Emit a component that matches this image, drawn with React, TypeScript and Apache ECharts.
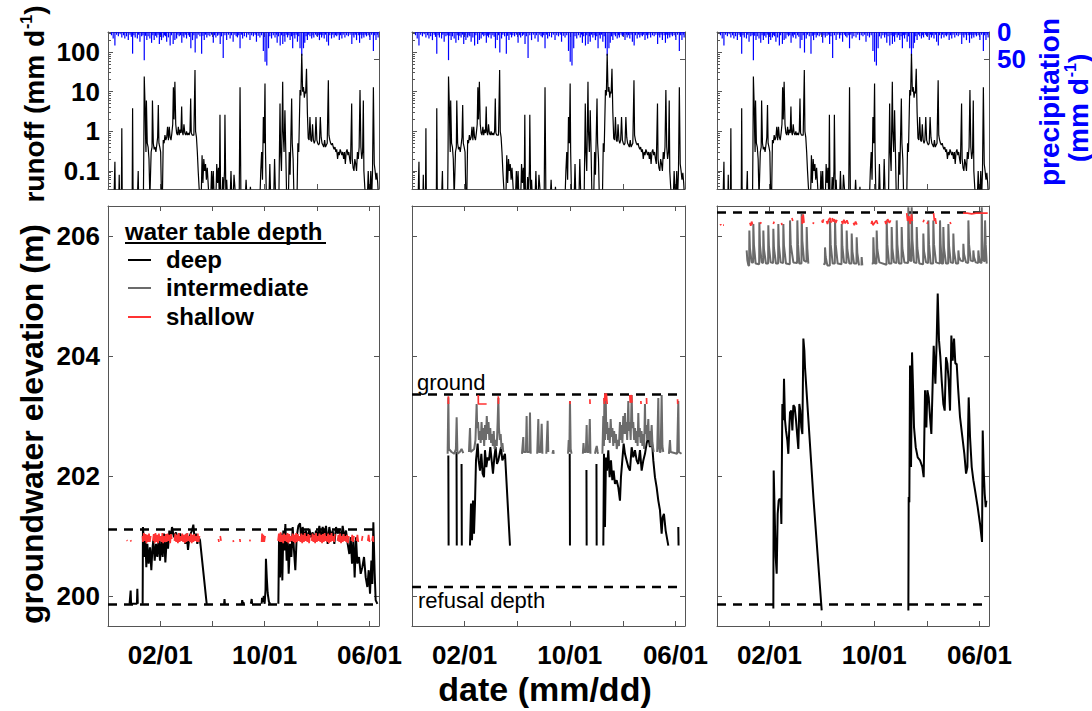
import React, { useEffect, useRef } from 'react';
import * as echarts from 'echarts';

// ---------------- axes / ticks ----------------
const dayRange = [2, 630];
const xTickDays = [123, 243, 365, 488, 608];
const xLabelDays = [123, 365, 608];
const xLabels = ['02/01', '10/01', '06/01'];

const runoffRange = [0.035, 320];
const runoffTicks = [0.1, 1, 10, 100];
const runoffMinorTicks = [0.04, 0.05, 0.06, 0.07, 0.08, 0.09, 0.2, 0.3, 0.4, 0.5, 0.6, 0.7, 0.8, 0.9,
  2, 3, 4, 5, 6, 7, 8, 9, 20, 30, 40, 50, 60, 70, 80, 90, 200, 300];
const precipRange = [0, 290];
const precipTicks = [0, 50];
const elevRange = [199.5, 206.5];
const elevTicks = [200, 202, 204, 206];

// ---------------- runoff [day, mm/d] ----------------
const runoff: number[][] = [
  [2, 0.02], [16, 0.02], [18, 0.17], [19, 0.02], [27, 0.02], [28, 0.08], [29, 0.02], [33, 0.02], [34, 1.2], [35, 0.02],
  [58, 0.02], [59, 3.8], [60, 0.04], [61, 0.02], [70, 0.02], [72, 0.1], [73, 0.02],
  [84, 0.02], [85, 0.4], [86, 24], [88, 4], [89, 0.8], [90, 0.3], [91, 6], [93, 0.5], [95, 0.4], [97, 0.2], [99, 0.02],
  [100, 0.02], [102, 0.3], [104, 0.4], [105, 6], [107, 0.5], [109, 0.35], [111, 0.4], [113, 0.3], [115, 0.45], [117, 0.7],
  [118.6, 4.6], [120, 0.5], [122, 0.4], [124, 0.3], [126, 0.02], [128, 0.02], [130, 0.6], [132, 0.5], [134, 0.8], [136, 0.6],
  [138, 0.7], [140, 1.3], [142, 0.6], [144, 1.3], [146, 0.7], [148, 0.6], [150, 0.9], [152, 1.5], [153.5, 13], [155, 2],
  [157, 17.7], [159, 1.5], [161, 0.9], [163, 0.8], [165, 1.3], [167, 0.8], [169, 1.1], [171, 0.9], [172.7, 4.2], [174, 1.0],
  [176, 0.8], [178, 1.5], [180, 0.9], [182, 0.8], [184, 1.0], [186, 0.8], [188, 0.9], [190, 0.8], [192, 1.0], [193.6, 6.7],
  [195, 0.9], [197, 0.8], [199, 0.8], [201, 0.8], [203.6, 35], [205, 1.0], [207, 0.7], [209, 0.3], [211, 0.1], [213, 0.04],
  [215, 0.02], [218, 0.02], [220, 0.25], [222, 0.05], [224, 0.2], [226, 0.1], [228, 0.15], [230, 0.06], [232, 0.12],
  [234, 0.05], [236, 0.02], [240, 0.02], [242, 0.1], [244, 0.03], [246, 0.1], [248, 0.02], [252, 0.02], [254, 0.15],
  [256, 0.05], [258, 0.12], [260, 0.02], [261.5, 2.6], [263, 0.02], [266, 0.02], [268, 0.07], [270, 0.03], [272, 0.1],
  [273, 2.6], [275, 0.03], [277, 0.06], [279, 0.02], [285, 0.02], [287, 0.1], [289, 0.02], [292, 0.02], [294, 0.08],
  [296, 0.04], [298, 0.02], [306, 0.02], [308, 13], [310, 0.02], [320, 0.02], [322, 0.06], [324, 0.02], [330, 0.02],
  [332, 0.04], [334, 0.02], [354, 0.02], [356, 0.1], [358, 0.3], [360, 0.06], [362, 2.3], [364, 0.5], [365.8, 16],
  [367, 0.3], [369, 0.02], [375, 0.02], [377, 0.15], [379, 0.02], [386, 0.02], [388, 0.2], [390, 0.03], [398, 0.02],
  [400.6, 5], [402, 0.3], [404, 0.1], [406.8, 17.7], [408, 1.0], [410, 0.3], [412, 3.4], [414, 0.3], [416, 0.02],
  [420, 0.02], [422, 0.3], [424, 0.08], [427.6, 6.7], [429, 0.5], [431, 0.2], [433, 0.02], [440, 0.02], [442, 0.5],
  [444, 0.3], [447, 11], [449, 8], [451, 90], [453, 10], [455, 13], [457, 7], [458.5, 10], [460, 9], [462, 38], [464, 3],
  [466, 0.67], [468, 0.6], [470, 2.3], [472, 0.6], [474, 0.55], [476, 1.5], [478, 0.6], [480, 0.5], [482, 0.6], [484, 2.3],
  [486, 0.6], [488, 0.5], [490, 0.45], [492, 0.5], [494, 2.3], [496, 0.7], [498, 0.5], [500, 0.45], [502, 0.4], [504, 0.6],
  [506, 0.4], [508, 0.45], [510, 0.5], [512.6, 19.5], [514, 0.8], [516, 0.6], [518, 0.5], [520, 0.45], [522, 0.5],
  [524, 0.4], [526, 0.35], [528, 0.4], [530, 0.3], [532, 0.35], [534, 0.2], [536, 0.3], [538, 0.25], [540, 0.35],
  [542, 0.3], [544, 0.25], [546, 0.3], [548, 0.2], [550, 0.3], [552, 0.15], [554, 0.3], [556, 0.35], [558, 0.25],
  [560, 0.3], [562, 0.2], [564, 0.15], [566.7, 5], [568, 0.2], [570, 0.12], [572, 0.1], [574, 0.2], [576, 0.15],
  [578, 0.1], [580, 0.3], [582, 0.2], [584, 0.4], [586, 11], [588, 0.4], [590, 0.2], [592, 0.3], [593.7, 6], [595, 0.1],
  [597, 0.04], [599, 0.02], [603, 0.02], [605, 0.1], [607, 0.03], [609, 0.02], [611, 0.1], [613, 0.02], [615, 0.1],
  [617, 13], [619, 0.15], [621, 0.1], [623, 0.06], [625, 0.09], [627, 0.05], [629, 0.02],
];

// ---------------- precipitation [day, mm] ----------------
const precip: number[][] = [
  [10, 6], [14, 12], [18, 25], [22, 5], [26, 8], [30, 4], [34, 10], [38, 6], [41, 12], [45, 8], [49, 15], [53, 5], [56, 9],
  [59, 40], [62, 6], [65, 10], [70, 12], [73, 5], [76, 18], [80, 8], [83, 6], [86, 52], [89, 7], [92, 15], [95, 8], [99, 12],
  [103, 20], [106, 6], [109, 15], [112, 7], [115, 10], [118, 5], [121, 22], [124, 6], [126, 15], [130, 10], [133, 6],
  [135, 8], [138, 18], [142, 10], [146, 25], [149, 6], [153, 22], [157, 15], [161, 12], [164, 5], [167, 8], [170, 6],
  [173, 20], [176, 7], [178, 10], [181, 5], [184, 12], [188, 6], [191, 9], [194, 30], [198, 15], [201, 6], [204, 38],
  [208, 12], [211, 5], [215, 8], [219, 40], [222, 7], [225, 15], [228, 5], [231, 10], [234, 6], [238, 8], [242, 5],
  [246, 20], [249, 6], [252, 10], [256, 7], [259, 5], [262, 22], [265, 8], [269, 48], [273, 6], [277, 15], [281, 5],
  [285, 12], [288, 6], [292, 18], [296, 5], [299, 8], [302, 10], [305, 6], [308, 30], [311, 5], [314, 12], [318, 8],
  [323, 10], [327, 5], [331, 15], [335, 6], [339, 8], [343, 5], [346, 18], [350, 7], [354, 10], [358, 6], [362, 35],
  [366, 55], [370, 62], [374, 30], [377, 8], [381, 12], [385, 6], [389, 10], [392, 5], [394, 20], [397, 8], [401, 25],
  [404, 6], [407, 22], [410, 8], [412, 18], [415, 5], [418, 10], [421, 6], [424, 15], [427, 8], [430, 30], [433, 6],
  [435, 12], [438, 5], [441, 18], [444, 8], [447, 30], [451, 44], [455, 30], [458, 20], [461, 8], [464, 15], [467, 5],
  [470, 8], [474, 12], [477, 6], [479, 10], [483, 5], [486, 8], [489, 6], [492, 15], [495, 5], [497, 10], [500, 6],
  [503, 12], [506, 5], [509, 18], [513, 25], [516, 6], [520, 12], [523, 5], [526, 10], [529, 6], [532, 8], [535, 5],
  [538, 15], [541, 6], [544, 12], [547, 5], [551, 10], [555, 6], [559, 8], [563, 5], [567, 22], [570, 6], [572, 10],
  [575, 5], [578, 15], [582, 6], [585, 20], [588, 5], [590, 12], [593, 6], [595, 10], [598, 5], [601, 8], [605, 6],
  [609, 15], [613, 5], [617, 35], [620, 6], [623, 15], [626, 5], [628, 10],
];

// ---------------- reference elevations (m) ----------------
const groundElev = [201.11, 203.36, 206.39];
const refusalElev = [199.86, 200.15, 199.86];
const refLineDays = [2, 618];

// ---------------- panel 1 groundwater (segments of [day, m]) ----------------
const deep1: number[][][] = [
  [[52, 199.87], [54.5, 200.09], [55.5, 199.87], [62, 199.87], [69, 199.87], [70, 200.12], [71, 199.87]],
  [[82.3, 199.87], [83, 201.15], [84, 201.04], [86.2, 200.65], [88.5, 200.98], [90.8, 200.48], [93.2, 200.87], [96.2, 200.54],
    [99.3, 200.81], [102.4, 200.43], [104.7, 200.76], [107, 200.93], [110.2, 200.59], [113.2, 200.87], [116.3, 200.65],
    [119.4, 200.98], [122.5, 200.59], [125.6, 200.93], [128.7, 200.65], [131.8, 201.04], [134.9, 200.56], [138, 200.93],
    [141.1, 200.79], [144.1, 201.09], [147.2, 200.95], [150.3, 201.15], [155, 200.98], [159.6, 201.06], [164.2, 200.93],
    [168.9, 201.04], [173.5, 200.95], [178.1, 201.01], [181.2, 200.87], [184.3, 201.04], [187.4, 200.77], [190.5, 200.98],
    [193.6, 201.04], [196.7, 201.09], [199.8, 201.19], [202.9, 200.93], [205.9, 201.04], [209, 200.87], [212.1, 200.98],
    [215.2, 200.93], [230.7, 199.87]],
  [[271, 199.87], [272, 199.95], [273, 199.87]],
  [[312, 199.87], [313, 199.93], [315, 199.87], [317, 199.9]],
  [[333, 199.87], [335, 199.95], [336, 199.87]],
  [[358, 199.87], [359, 199.97], [361, 199.9], [363, 200.0], [365, 199.87], [367, 200.1], [368, 200.62], [370, 200.3],
    [372, 200.05], [375, 199.9], [378, 199.87]],
  [[396.8, 199.87], [398.3, 200.93], [400.6, 200.31], [402.9, 201.04], [406, 200.26], [408.3, 201.09], [410.7, 200.76],
    [413, 201.2], [416, 200.59], [418.4, 200.98], [420.7, 200.37], [423.8, 200.87], [426.9, 200.65], [430, 201.15],
    [433, 200.76], [436.1, 200.43], [439.2, 200.98], [443.1, 201.17], [447, 201.21], [450.1, 200.93], [453.1, 201.15],
    [457, 200.98], [460.9, 201.09], [464.7, 200.93], [468.6, 201.12], [472.4, 200.98], [476.3, 201.06], [480.2, 200.93],
    [484, 201.09], [487.9, 200.98], [491.8, 201.17], [495.6, 200.93], [499.5, 201.15], [503.4, 200.98], [507.2, 201.17],
    [511.1, 200.87], [514.9, 201.15], [518.8, 200.98], [522.7, 201.09], [526.5, 200.87], [530.4, 201.15], [534.2, 201.04],
    [538.1, 201.12], [542, 200.93], [545.8, 201.17], [549.7, 200.98], [553.6, 201.09], [557.4, 200.87], [561.3, 200.7],
    [564.4, 200.98], [567.5, 200.54], [570.6, 200.93], [573.6, 200.31], [576.7, 200.98], [579.8, 200.54], [583.7, 200.65],
    [587.5, 200.37], [591.4, 200.48], [595.3, 200.65], [599.2, 200.31], [603, 200.15], [606.1, 200.43], [609.2, 200.04],
    [612.3, 200.59], [614.6, 200.2], [616.9, 201.23], [620, 200.37], [622.3, 199.93], [626.2, 199.87]],
];
const inter1: number[][][] = [];
const shallow1: number[][][] = [
  [[45.3, 200.93], [47, 200.92]], [[54, 200.93], [56, 200.91]],
  [[82, 201.0], [83, 200.9], [85, 201.05], [87, 200.92], [89, 201.03], [91, 200.88], [93, 201.02], [95, 200.9], [97, 201.04],
    [99, 200.9], [101, 201.0]],
  [[106, 200.92], [108, 201.03], [110, 200.88], [112, 201.05], [114, 200.9], [116, 201.02], [118, 200.88], [120, 201.04],
    [122, 200.92], [124, 201.0], [126, 200.9], [128, 201.05], [130, 200.88], [132, 201.0], [134, 200.9], [136, 201.03],
    [138, 200.9], [140, 201.04], [142, 200.92], [144, 201.02], [146, 200.88], [148, 201.03], [150, 200.95]],
  [[156, 200.92], [158, 201.04], [160, 200.9], [162, 201.02], [164, 200.88], [166, 201.05], [168, 200.9], [170, 201.0],
    [172, 200.92], [174, 201.04], [176, 200.9], [178, 201.02], [180, 200.88], [182, 201.03], [184, 200.9], [186, 201.05],
    [188, 200.92], [190, 201.0], [192, 200.9], [194, 201.04], [196, 200.88], [198, 201.02], [200, 200.9], [202, 201.03],
    [204, 200.92], [206, 201.0], [208, 200.9], [210, 201.04], [212, 200.9], [214, 201.0]],
  [[258, 200.95], [259, 200.9]], [[262, 201.0], [264, 200.92]], [[292, 200.93], [293, 200.9]],
  [[307.5, 200.95], [308.5, 200.9]], [[330.5, 200.94], [331.5, 200.91]],
  [[358, 200.9], [359, 201.04], [360, 200.9], [362, 201.02], [364, 200.9], [366, 201.0]],
  [[396, 200.92], [398, 201.04], [400, 200.9], [402, 201.06], [404, 200.9], [406, 201.02], [408, 200.88], [410, 201.04],
    [412, 200.92], [414, 201.02], [416, 200.9], [418, 201.05], [420, 200.88], [422, 201.03], [424, 200.9], [426, 201.0],
    [428, 200.92], [430, 201.04], [432, 200.9], [434, 201.02], [436, 200.88], [438, 201.05], [440, 200.9], [442, 201.03],
    [444, 200.92], [446, 201.0], [448, 200.9], [450, 201.04], [452, 200.88], [454, 201.02], [456, 200.9], [458, 201.05],
    [460, 200.92], [462, 201.0], [464, 200.9], [466, 201.03], [468, 200.88], [470, 201.02]],
  [[474, 200.92], [476, 201.04], [478, 200.9], [480, 201.02], [482, 200.88], [484, 201.05], [486, 200.9], [488, 201.0],
    [490, 200.92], [492, 201.04], [494, 200.9], [496, 201.02], [498, 200.88], [500, 201.03], [502, 200.9], [504, 201.05],
    [506, 200.92], [508, 201.0], [510, 200.9], [512, 201.04], [514, 200.88], [516, 201.02], [518, 200.9], [520, 201.05],
    [522, 200.92], [524, 201.0], [526, 200.9], [528, 201.03]],
  [[534, 200.92], [536, 201.02], [538, 200.9], [540, 201.04], [542, 200.88], [544, 201.0], [546, 200.9], [548, 201.03],
    [550, 200.92], [552, 201.0], [554, 200.9], [556, 201.02], [558, 200.88], [560, 201.0]],
  [[566, 200.92], [568, 201.02], [570, 200.9], [572, 201.0]], [[578, 200.92], [580, 201.02], [582, 200.9]],
  [[590, 200.92], [592, 201.0]], [[604, 200.92], [606, 201.02], [608, 200.9]], [[614, 200.92], [616, 201.0], [617, 200.9]],
];

// ---------------- panel 2 groundwater ----------------
const deep2: number[][][] = [
  [[12, 200.86], [13.5, 200.86]],
  [[85.6, 202.34], [86.2, 200.84]],
  [[104.4, 202.4], [105, 200.84]],
  [[116, 202.2], [116.6, 200.84]],
  [[135.4, 200.84], [137.7, 201.54], [140, 200.93], [142.3, 201.59], [144.6, 201.04], [146.9, 201.54], [149.2, 202.26],
    [150.7, 202.37], [153, 202.54], [155.3, 202.26], [158.4, 202.09], [161.5, 202.37], [164.5, 202.04], [167.6, 201.98],
    [169.9, 202.43], [173, 202.15], [176, 202.31], [179.1, 202.26], [182.2, 202.48], [185.2, 202.26], [188.3, 202.04],
    [191.4, 202.31], [194.4, 202.48], [197.5, 202.2], [200.6, 202.26], [203.6, 202.37], [206.7, 202.48], [209.8, 202.26],
    [212.8, 202.31], [215.9, 202.37], [227.4, 200.84]],
  [[364.8, 202.37], [365.4, 200.84]],
  [[403.3, 202.1], [403.8, 200.84]],
  [[426.3, 202.2], [426.8, 200.84]],
  [[442.1, 200.84], [443.6, 202.37], [445.9, 201.15], [448.2, 202.31], [450.5, 202.09], [453.6, 202.43], [456.6, 201.98],
    [459.7, 202.26], [462.8, 201.93], [465.8, 202.09], [468.9, 201.87], [472.8, 201.93], [476.6, 201.81], [480.4, 201.59],
    [482.7, 201.98], [485.8, 202.26], [488.9, 202.54], [491.9, 202.37], [495.7, 202.26], [499.6, 202.15], [503.4, 202.09],
    [507.3, 202.48], [511.1, 202.31], [514.9, 202.43], [518.8, 202.26], [522.6, 202.2], [526.4, 202.43], [530.3, 202.09],
    [534.1, 202.26], [537.9, 202.37], [541.7, 202.54], [545.6, 202.65], [549.4, 202.48], [553.3, 202.65], [557.1, 202.26],
    [560.9, 201.98], [564.8, 201.81], [568.6, 201.59], [572.4, 201.43], [576.3, 201.04], [578.6, 201.31], [581.6, 201.37],
    [585.5, 201.09], [591.6, 200.84]],
  [[614.6, 201.15], [615.2, 200.84]],
];
const inter2: number[][][] = [
  [[84, 202.37], [85.6, 203.31], [87, 202.45], [93, 202.4], [99, 202.37], [103, 202.45], [104.7, 202.98], [106.5, 202.37],
    [112, 202.4], [116, 202.45], [120, 202.38]],
  [[133, 202.4], [135.4, 202.8], [137, 202.4], [145, 202.45], [148, 202.6], [150.7, 203.2], [152, 202.8], [154, 202.9],
    [156, 202.6], [158, 202.75], [160, 202.55], [162, 202.9], [164, 202.6], [166, 202.8], [168, 202.5], [170, 202.85],
    [172, 202.6], [174, 203.0], [176, 202.7], [178, 202.9], [180, 202.6], [182, 202.8], [184, 202.55], [186, 202.7],
    [188, 202.5], [190, 202.75], [192, 202.45], [195, 202.6], [197, 202.5], [199, 202.9], [200.6, 203.3], [202, 202.8],
    [204, 202.6], [206, 202.7], [208, 202.45], [210, 202.55], [212, 202.4]],
  [[255, 202.37], [258, 202.65], [259, 202.4], [264, 202.4], [265.7, 203.0], [267, 202.4], [272, 202.4], [273.4, 203.06],
    [275, 202.37]],
  [[290, 202.37], [292.6, 202.95], [294, 202.4], [298, 202.4], [300.3, 202.87], [302, 202.37]],
  [[311, 202.37], [314, 202.92], [315.5, 202.4]],
  [[325, 202.37], [327, 202.43], [328, 202.37]],
  [[361, 202.37], [362.5, 202.6], [364, 202.4], [365.4, 203.25], [367, 202.45], [369, 202.37]],
  [[395, 202.37], [396.5, 202.55], [398, 202.4], [402, 202.4], [403.8, 202.85], [405, 202.4], [409, 202.4], [411, 202.95],
    [412.5, 202.37]],
  [[423, 202.37], [425, 202.45], [427, 202.5], [429, 202.4], [430, 202.37]],
  [[440, 202.37], [442.1, 203.0], [443.5, 202.5], [444.5, 203.3], [446, 202.6], [447.5, 203.38], [449, 202.7], [451, 202.9],
    [453, 202.6], [455, 202.8], [457, 202.55], [459, 202.95], [461, 202.65], [463, 202.8], [465, 202.5], [467, 202.75],
    [469, 202.55], [471, 202.7], [473, 202.45], [476, 202.6], [478, 202.5], [480.4, 202.9], [482, 202.6], [484, 202.85],
    [486, 202.55], [488, 203.0], [490, 202.7], [491.9, 203.05], [493, 202.7], [495, 202.9], [497, 202.6], [499.6, 203.25],
    [501, 202.75], [503, 202.9], [505, 202.6], [507.3, 203.35], [509, 202.8], [511, 202.9], [513, 202.6], [515, 202.8],
    [517, 202.55], [519, 202.75], [521, 202.5], [522.6, 203.05], [524, 202.65], [526, 202.8], [528, 202.55], [530, 202.75],
    [532, 202.5], [534, 202.7], [536, 202.45], [537.9, 203.2], [539, 202.7], [541, 202.85], [543, 202.6], [545.6, 202.95],
    [547, 202.6], [549, 202.75], [551, 202.5], [553.3, 202.85], [555, 202.55], [558, 202.4]],
  [[566, 202.4], [568.6, 203.3], [570, 202.5], [572, 202.4], [574, 202.4], [576.3, 203.35], [578, 202.5], [580, 202.4]],
  [[593, 202.37], [595.4, 202.6], [597, 202.4], [612, 202.37], [614.6, 203.25], [616, 202.4], [622, 202.37]],
];
const shallow2: number[][][] = [
  [[85.3, 203.2], [85.6, 203.33], [85.9, 203.2]],
  [[154.4, 203.35], [154.6, 203.2], [173.7, 203.2]],
  [[200.4, 203.33], [200.7, 203.2], [201, 203.3]],
  [[365.2, 203.25], [365.6, 203.2]],
  [[411.2, 203.28], [411.6, 203.2]],
  [[443.6, 203.3], [444.5, 203.2], [446, 203.38], [447.5, 203.25], [449, 203.38], [451, 203.2]],
  [[503, 203.35], [504, 203.22], [507, 203.35], [508, 203.22]],
  [[528.5, 203.25], [528.9, 203.2]],
  [[541.5, 203.3], [541.9, 203.2]],
  [[612.9, 203.28], [613.3, 203.2]],
];

// ---------------- panel 3 groundwater ----------------
const deep3: number[][][] = [
  [[132.1, 199.79], [132.9, 202.09], [135.2, 201.37], [137.5, 200.65], [139.8, 200.37], [142.1, 201.37], [144.4, 201.59],
    [146.7, 201.62], [149, 201.59], [150.6, 201.2], [152.9, 203.2], [155.2, 202.93], [156.7, 203.62], [159, 202.93],
    [161.3, 202.76], [164.4, 202.59], [166.7, 202.37], [169, 202.81], [170.6, 203.06], [173.6, 203.09], [176, 202.76],
    [178.3, 203.18], [181.3, 203.15], [184.4, 202.93], [187.5, 202.65], [189.8, 202.45], [192.1, 203.2], [194.4, 203.09],
    [196.7, 202.81], [199.1, 202.7], [201.4, 204.29], [203.7, 204.09], [205.2, 203.81], [224.5, 201.65], [243.7, 199.76]],
  [[443.8, 199.76], [444.6, 201.65], [446.1, 201.56], [447.7, 203.84], [450, 202.15], [452.3, 204.06], [454.6, 203.48],
    [456.9, 202.81], [460.8, 202.48], [465.4, 202.31], [470.8, 202.26], [476.1, 202.15], [479.2, 201.98], [482.3, 203.43],
    [485.4, 202.81], [487.7, 203.43], [490.8, 203.31], [493.8, 202.98], [496.9, 202.7], [499.2, 203.34], [502.3, 204.17],
    [506.2, 203.54], [509.2, 204.26], [511.6, 205.04], [514.6, 204.26], [517.7, 203.98], [520.8, 203.59], [524.6, 203.2],
    [527.7, 203.09], [530.8, 203.98], [533.9, 203.87], [536.9, 203.59], [540, 203.09], [543.1, 204.34], [546.2, 203.92],
    [549.3, 204.29], [552.3, 203.87], [555.4, 203.87], [558.5, 203.48], [563.1, 202.98], [568.5, 202.65], [573.1, 202.37],
    [577, 202.04], [580.1, 202.15], [583.1, 203.31], [586.2, 202.65], [590.1, 202.15], [593.9, 201.93], [597.8, 201.76],
    [603.9, 201.48], [609.3, 201.2], [613.9, 200.9], [615.5, 202.76], [617.8, 202.09], [620.1, 201.7], [622.4, 201.48],
    [623.9, 201.59]],
];
const inter3: number[][][] = [
  [[70.5, 205.76], [72, 205.6], [74.4, 205.51], [76.2, 205.51], [76.7, 206.09], [78, 205.8], [82, 205.56],
    [85.4, 205.56], [85.9, 206.2], [87.3, 205.85], [91.3, 205.54], [99.3, 205.53], [99.8, 206.23], [101.2, 205.85],
    [105.1, 205.56], [108.5, 205.55], [109, 206.09], [110.4, 205.78], [115.1, 205.54], [120, 205.54], [120.5, 206.18],
    [121.9, 205.83], [125.9, 205.56], [131.6, 205.55], [132.1, 206.12], [133.5, 205.8], [138.2, 205.54], [143.1, 205.54],
    [143.6, 206.2], [145, 205.84], [149, 205.56], [154.7, 205.55], [155.2, 206.2], [156.6, 205.84], [161.3, 205.54],
    [170.1, 205.53], [170.6, 206.26], [172.2, 205.86], [178.3, 205.56], [187, 205.55], [187.5, 206.26], [189, 205.86],
    [192.1, 205.54], [197, 205.54], [197.5, 206.37], [199, 205.92], [202.9, 205.59], [208.6, 205.57], [209.1, 206.15],
    [210.5, 205.8], [212.9, 205.54]],
  [[247.5, 205.54], [251, 205.53], [251.4, 205.81], [253, 205.65], [256.8, 205.51], [262.5, 205.51], [263, 206.26],
    [264.5, 205.86], [269.1, 205.54], [274, 205.54], [274.5, 206.26], [276, 205.86], [280.6, 205.54], [289.4, 205.53],
    [289.9, 206.2], [291.4, 205.83], [295.3, 205.56], [300.9, 205.55], [301.4, 206.09], [302.9, 205.78], [307.6, 205.54],
    [312.5, 205.54], [313, 206.04], [314.5, 205.75], [318.4, 205.54], [324, 205.54], [324.5, 205.98], [326, 205.72],
    [329.9, 205.51]],
  [[335.6, 205.51], [336, 205.65], [337.5, 205.51]],
  [[359.2, 205.54], [362.5, 205.54], [363, 205.98], [364.3, 205.72], [366.8, 205.54], [370.2, 205.54], [370.7, 206.09],
    [372.2, 205.78], [376.8, 205.56], [393.3, 205.52], [393.8, 206.26], [395.3, 205.86], [399.2, 205.54], [404.8, 205.54],
    [405.3, 206.15], [406.8, 205.8], [410.7, 205.56], [416.4, 205.55], [416.9, 206.26], [418.4, 205.86], [422.3, 205.54],
    [427.9, 205.54], [428.4, 206.15], [429.9, 205.8], [434.6, 205.56], [443.3, 205.55], [443.8, 206.48], [445.2, 205.95],
    [447.7, 205.59], [451, 205.58], [451.5, 206.48], [453, 205.95], [456.9, 205.56], [462.6, 205.55], [463.1, 206.15],
    [464.6, 205.8], [469.2, 205.54], [477.9, 205.53], [478.4, 206.04], [479.9, 205.75], [484.6, 205.56], [489.5, 205.55],
    [490, 206.26], [491.5, 205.86], [495.4, 205.54], [501, 205.54], [501.5, 206.26], [503, 205.86], [507.7, 205.56],
    [516.4, 205.54], [516.9, 206.26], [518.4, 205.86], [520.8, 205.54], [524.1, 205.54], [524.6, 206.15], [526.1, 205.8],
    [530.8, 205.54], [535.7, 205.54], [536.2, 206.2], [537.7, 205.84], [541.6, 205.56], [547.2, 205.55], [547.7, 206.04],
    [549.2, 205.75], [553.9, 205.54], [558.8, 205.54], [559.3, 205.76], [560.8, 205.65], [564.7, 205.59], [570.3, 205.58],
    [570.8, 205.87], [572.3, 205.7], [577, 205.56], [581.9, 205.55], [582.4, 206.26], [583.9, 205.86], [587.8, 205.59],
    [593.4, 205.58], [593.9, 205.76], [595.4, 205.65], [599.3, 205.56], [604.9, 205.55], [605.4, 205.76], [606.9, 205.65],
    [609.3, 205.56], [612.7, 205.55], [613.2, 206.48], [614.6, 205.95], [617, 205.59], [620.4, 205.58], [620.9, 206.26],
    [622.4, 205.86], [624.7, 205.54]],
];
const shallow3: number[][][] = [
  [[9, 206.18], [10.5, 206.19], [12, 206.18]], [[16, 206.18], [18, 206.18]],
  [[78, 206.22], [80, 206.17], [82, 206.24], [84, 206.19]], [[102, 206.2], [104, 206.23]], [[132, 206.2], [134, 206.24]],
  [[151, 206.22], [152, 206.18]], [[175, 206.3], [177, 206.25]],
  [[198, 206.33], [199, 206.2], [201, 206.36], [203, 206.22]], [[224, 206.2], [225, 206.23]],
  [[244, 206.26], [246, 206.22], [248, 206.28]], [[255, 206.25], [257, 206.2], [260, 206.27], [263, 206.3], [266, 206.22]],
  [[268, 206.3], [270, 206.24], [273, 206.28], [276, 206.22], [279, 206.27]],
  [[290, 206.25], [292, 206.2], [295, 206.27], [298, 206.21], [302, 206.26], [305, 206.2]],
  [[317, 206.22], [319, 206.18], [322, 206.24], [325, 206.19]],
  [[358, 206.2], [360, 206.25], [362, 206.18], [366, 206.22], [370, 206.26], [373, 206.2]],
  [[390, 206.25], [392, 206.2], [396, 206.28], [400, 206.22], [403, 206.26]],
  [[440, 206.38], [442, 206.25], [445, 206.33], [448, 206.2], [451, 206.36], [453, 206.25]],
  [[478, 206.23], [480, 206.27]], [[487, 206.2], [489, 206.24]],
  [[502, 206.38], [504, 206.25], [506, 206.3], [508, 206.2]], [[540, 206.23], [542, 206.2]],
  [[570, 206.38], [580, 206.38], [590, 206.37], [600, 206.38], [610, 206.38], [620, 206.38], [627, 206.38]],
];

const deepSets = [deep1, deep2, deep3];
const interSets = [inter1, inter2, inter3];
const shallowSets = [shallow1, shallow2, shallow3];

// ---------------- helpers ----------------
function joinSegments(segs: number[][][]) {
  const out: (number | null)[][] = [];
  segs.forEach((s, i) => {
    if (i > 0) out.push([s[0][0], null]);
    s.forEach((p) => out.push(p));
  });
  return out;
}

const FONT = '"Liberation Sans", Arial, sans-serif';
const AXIS_COLOR = '#555';
const BLACK = '#000000';
const GRAY = '#6b6b6b';
const RED = '#ff3333';
const BLUE = '#0000ff';

function buildOption() {
  const lefts = [108, 412, 717];
  const widths = [271, 273, 272];
  const grid: any[] = [];
  for (let i = 0; i < 3; i++) grid.push({ left: lefts[i], top: 32, width: widths[i], height: 157 });
  for (let i = 0; i < 3; i++) grid.push({ left: lefts[i], top: 206, width: widths[i], height: 420 });

  const lineStyle = { color: AXIS_COLOR, width: 1 };
  const tick = (vals: number[], len = 5) => ({ show: true, inside: true, length: len, customValues: vals, lineStyle });
  const labelFont = { fontFamily: FONT, fontSize: 26, fontWeight: 'bold', color: BLACK };

  const xAxis: any[] = [];
  for (let g = 0; g < 6; g++) {
    xAxis.push({
      type: 'value', gridIndex: g, min: dayRange[0], max: dayRange[1], position: 'bottom',
      axisLine: { show: true, onZero: false, lineStyle }, axisTick: tick(xTickDays), splitLine: { show: false },
      axisLabel: g >= 3 ? {
        show: true, ...labelFont, margin: 16, customValues: xLabelDays,
        formatter: (v: number) => { const k = xLabelDays.indexOf(Math.round(v)); return k >= 0 ? xLabels[k] : ''; },
      } : { show: false },
    });
    xAxis.push({
      type: 'value', gridIndex: g, min: dayRange[0], max: dayRange[1], position: 'top',
      axisLine: { show: true, onZero: false, lineStyle }, axisTick: tick(xTickDays), splitLine: { show: false },
      axisLabel: { show: false },
    });
  }

  const rMin = Math.log10(runoffRange[0]);
  const rMax = Math.log10(runoffRange[1]);
  const rTickLogs = runoffTicks.map((v) => Math.log10(v));
  const rMinorLogs = runoffMinorTicks.map((v) => Math.log10(v));
  const yAxis: any[] = [];
  for (let i = 0; i < 3; i++) {
    yAxis.push({
      type: 'value', gridIndex: i, min: rMin, max: rMax, position: 'left',
      axisLine: { show: true, onZero: false, lineStyle }, axisTick: tick(rTickLogs), splitLine: { show: false },
      axisLabel: i === 0 ? {
        show: true, ...labelFont, margin: 8, customValues: rTickLogs,
        formatter: (v: number) => { const k = rTickLogs.findIndex((t) => Math.abs(t - v) < 1e-6); return k >= 0 ? String(runoffTicks[k]) : ''; },
      } : { show: false },
    });
    yAxis.push({
      type: 'value', gridIndex: i, min: rMin, max: rMax, position: 'left',
      axisLine: { show: false }, axisTick: tick(rMinorLogs, 3), splitLine: { show: false }, axisLabel: { show: false },
    });
    yAxis.push({
      type: 'value', gridIndex: i, min: precipRange[0], max: precipRange[1], inverse: true, position: 'right',
      axisLine: { show: true, onZero: false, lineStyle }, axisTick: tick(precipTicks), splitLine: { show: false },
      axisLabel: i === 2 ? { show: true, ...labelFont, color: BLUE, margin: 8, customValues: precipTicks } : { show: false },
    });
  }
  for (let j = 0; j < 3; j++) {
    yAxis.push({
      type: 'value', gridIndex: 3 + j, min: elevRange[0], max: elevRange[1], position: 'left',
      axisLine: { show: true, onZero: false, lineStyle }, axisTick: tick(elevTicks), splitLine: { show: false },
      axisLabel: j === 0 ? { show: true, ...labelFont, margin: 8, customValues: elevTicks } : { show: false },
    });
    yAxis.push({
      type: 'value', gridIndex: 3 + j, min: elevRange[0], max: elevRange[1], position: 'right',
      axisLine: { show: true, onZero: false, lineStyle }, axisTick: tick(elevTicks), splitLine: { show: false },
      axisLabel: { show: false },
    });
  }

  const series: any[] = [];
  const runoffLog = runoff.map(([d, v]) => [d, Math.log10(v)]);
  for (let i = 0; i < 3; i++) {
    series.push({
      type: 'bar', name: 'precipitation', xAxisIndex: 2 * i, yAxisIndex: 3 * i + 2, data: precip,
      barWidth: 1.2, itemStyle: { color: BLUE }, silent: true,
    });
    series.push({
      type: 'line', name: 'runoff', xAxisIndex: 2 * i, yAxisIndex: 3 * i, data: runoffLog,
      showSymbol: false, symbol: 'none', lineStyle: { color: BLACK, width: 1.2 }, clip: true, silent: true,
    });
  }
  for (let j = 0; j < 3; j++) {
    const xi = 2 * (3 + j);
    const yi = 9 + 2 * j;
    series.push({
      type: 'line', name: 'ground', xAxisIndex: xi, yAxisIndex: yi,
      data: refLineDays.map((d) => [d, groundElev[j]]), showSymbol: false, symbol: 'none',
      lineStyle: { color: BLACK, width: 2.5, type: [9, 7] }, silent: true,
    });
    series.push({
      type: 'line', name: 'refusal depth', xAxisIndex: xi, yAxisIndex: yi,
      data: refLineDays.map((d) => [d, refusalElev[j]]), showSymbol: false, symbol: 'none',
      lineStyle: { color: BLACK, width: 2.5, type: [9, 7] }, silent: true,
    });
    series.push({
      type: 'line', name: 'deep', xAxisIndex: xi, yAxisIndex: yi, data: joinSegments(deepSets[j]),
      showSymbol: false, symbol: 'none', connectNulls: false, lineStyle: { color: BLACK, width: 2 }, silent: true,
    });
    series.push({
      type: 'line', name: 'intermediate', xAxisIndex: xi, yAxisIndex: yi, data: joinSegments(interSets[j]),
      showSymbol: false, symbol: 'none', connectNulls: false, lineStyle: { color: GRAY, width: 2 }, silent: true,
    });
    series.push({
      type: 'line', name: 'shallow', xAxisIndex: xi, yAxisIndex: yi, data: joinSegments(shallowSets[j]),
      showSymbol: false, symbol: 'none', connectNulls: false, lineStyle: { color: RED, width: 1.7 }, silent: true,
    });
  }

  const bold = (px: number) => `bold ${px}px ${FONT}`;
  const graphic: any[] = [
    // legend
    { type: 'text', x: 125, y: 231, style: { text: 'water table depth', font: bold(24), fill: BLACK, align: 'left', verticalAlign: 'middle' } },
    { type: 'line', shape: { x1: 125, y1: 243, x2: 326, y2: 243 }, style: { stroke: BLACK, lineWidth: 2 } },
    { type: 'line', shape: { x1: 128, y1: 260, x2: 151, y2: 260 }, style: { stroke: BLACK, lineWidth: 2 } },
    { type: 'text', x: 166, y: 259, style: { text: 'deep', font: bold(24), fill: BLACK, align: 'left', verticalAlign: 'middle' } },
    { type: 'line', shape: { x1: 128, y1: 288, x2: 151, y2: 288 }, style: { stroke: GRAY, lineWidth: 2 } },
    { type: 'text', x: 166, y: 287, style: { text: 'intermediate', font: bold(24), fill: BLACK, align: 'left', verticalAlign: 'middle' } },
    { type: 'line', shape: { x1: 128, y1: 317, x2: 151, y2: 317 }, style: { stroke: RED, lineWidth: 2 } },
    { type: 'text', x: 166, y: 316, style: { text: 'shallow', font: bold(24), fill: BLACK, align: 'left', verticalAlign: 'middle' } },
    // annotations
    { type: 'text', x: 417, y: 382, style: { text: 'ground', font: `22px ${FONT}`, fill: BLACK, align: 'left', verticalAlign: 'middle' } },
    { type: 'text', x: 418, y: 600, style: { text: 'refusal depth', font: `22px ${FONT}`, fill: BLACK, align: 'left', verticalAlign: 'middle' } },
    // axis titles
    {
      type: 'text', x: 34, y: 104, rotation: Math.PI / 2,
      style: {
        text: '{a|runoff (mm d}{b|-1}{a|)}', align: 'center', verticalAlign: 'middle',
        rich: { a: { font: bold(28), fill: BLACK, lineHeight: 32 }, b: { font: bold(16), fill: BLACK, lineHeight: 32, verticalAlign: 'top', padding: [0, 0, 0, 1] } },
      },
    },
    { type: 'text', x: 32, y: 424, rotation: Math.PI / 2, style: { text: 'groundwater elevation (m)', font: bold(32), fill: BLACK, align: 'center', verticalAlign: 'middle' } },
    { type: 'text', x: 545, y: 689, style: { text: 'date (mm/dd)', font: bold(34), fill: BLACK, align: 'center', verticalAlign: 'middle' } },
    { type: 'text', x: 1049, y: 102, rotation: Math.PI / 2, style: { text: 'precipitation', font: bold(28), fill: BLUE, align: 'center', verticalAlign: 'middle' } },
    {
      type: 'text', x: 1078, y: 108, rotation: Math.PI / 2,
      style: {
        text: '{a|(mm d}{b|-1}{a|)}', align: 'center', verticalAlign: 'middle',
        rich: { a: { font: bold(28), fill: BLUE, lineHeight: 32 }, b: { font: bold(16), fill: BLUE, lineHeight: 32, verticalAlign: 'top', padding: [0, 0, 0, 1] } },
      },
    },
  ];

  return {
    animation: false,
    backgroundColor: '#ffffff',
    textStyle: { fontFamily: FONT },
    grid, xAxis, yAxis, series, graphic,
  };
}

export default function App() {
  const ref = useRef<HTMLDivElement>(null);
  useEffect(() => {
    if (!ref.current) return;
    const chart = echarts.init(ref.current, undefined, { renderer: 'svg' });
    chart.setOption(buildOption() as any);
    return () => chart.dispose();
  }, []);
  return <div ref={ref} style={{ position: 'fixed', left: 0, top: 0, width: 1092, height: 711, background: '#fff' }} />;
}
